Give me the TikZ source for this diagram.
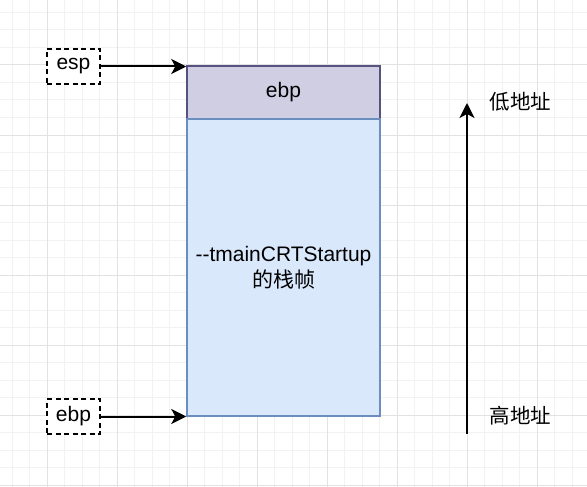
\documentclass[tikz,border=0pt]{standalone}
\usepackage{fontspec}
\setmainfont{Liberation Sans}
\newfontfamily\cjk{Noto Sans CJK SC}
\usetikzlibrary{arrows.meta}
\definecolor{gridminor}{HTML}{F2F2F2}
\definecolor{gridmajor}{HTML}{E2E2E2}
\definecolor{lavfill}{HTML}{D0CEE2}
\definecolor{lavline}{HTML}{56517E}
\definecolor{bluefill}{HTML}{DAE8FC}
\definecolor{blueline}{HTML}{6C8EBF}
\tikzset{
  minorgrid/.style={gridminor, line width=1pt},
  majorgrid/.style={gridmajor, line width=1pt},
  regbox/.style={draw=black, dashed, dash pattern=on 5pt off 3.5pt, line width=1.5pt, fill=white,
    minimum width=53pt, minimum height=35pt, inner sep=0pt, font=\fontsize{21}{25}\selectfont},
  topbox/.style={draw=lavline, fill=lavfill, line width=1.5pt, minimum width=193pt, minimum height=53pt,
    inner sep=0pt, font=\fontsize{21}{25}\selectfont},
  framebox/.style={draw=blueline, fill=bluefill, line width=1.5pt, minimum width=193pt, minimum height=297pt,
    inner sep=0pt, align=center, font=\fontsize{21}{26}\selectfont},
  ptr/.style={draw=black, line width=2pt, -{Stealth[length=15pt,width=15pt,inset=4pt]}},
  addr/.style={font=\fontsize{20.5}{24}\selectfont\cjk, inner sep=0pt}
}
\begin{document}
\begin{tikzpicture}[x=1pt,y=-1pt]
\useasboundingbox (0,0) rectangle (587,487);
\fill[white] (0,0) rectangle (587,487);
\foreach \i in {0,...,33} \draw[minorgrid] (12+17.5*\i,0) -- ++(0,487);
\foreach \i in {0,...,27} \draw[minorgrid] (0,12.5+17.5*\i) -- ++(587,0);
\foreach \i in {0,...,7} \draw[majorgrid] (47+70*\i,0) -- ++(0,487);
\foreach \i in {0,...,7} \draw[majorgrid] (0,-5+70*\i) -- ++(587,0);

\node[regbox] (esp) at (73.5,66.5) {esp};
\node[topbox] (ebp) at (283.5,92.5) {ebp};
\node[framebox] (frame) at (283.5,267.5) {-{}-tmainCRTStartup\\{\cjk 的栈帧}};
\node[regbox] (ebpreg) at (73.5,416.5) {ebp};

\draw[ptr] (esp.east) -- (esp.east -| ebp.west);
\draw[ptr] (ebpreg.east) -- (ebpreg.east -| frame.west);

\coordinate (vbot) at (467,434);
\coordinate (vtop) at (467,103);
\draw[ptr] (vbot) -- (vtop);

\node[addr] (low) at (520.5,102) {低地址};
\node[addr] (high) at (520.5,416) {高地址};
\end{tikzpicture}
\end{document}
